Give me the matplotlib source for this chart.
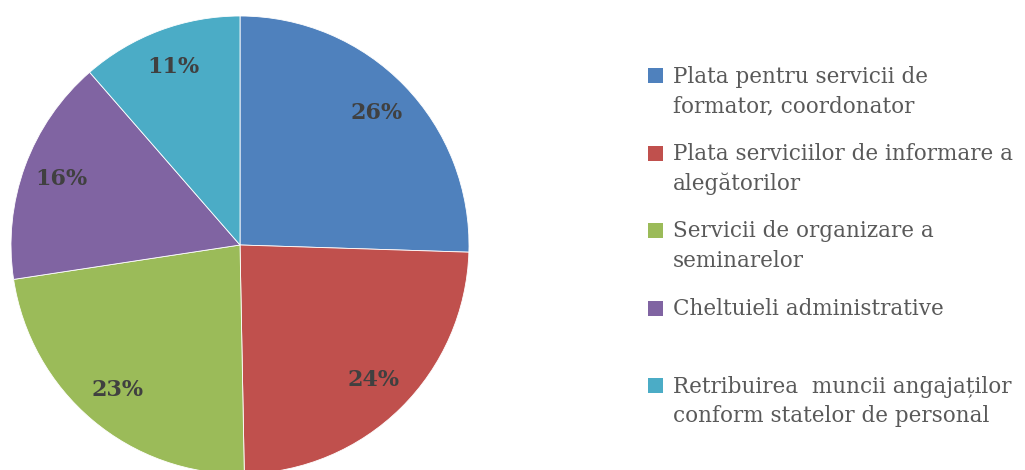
import matplotlib
matplotlib.use("Agg")
import matplotlib.pyplot as plt
from matplotlib.patches import Rectangle
import numpy as np

categories = [
    "Plata pentru servicii de\nformator, coordonator",
    "Plata serviciilor de informare a\nalegătorilor",
    "Servicii de organizare a\nseminarelor",
    "Cheltuieli administrative",
    "Retribuirea  muncii angajaților\nconform statelor de personal",
]
shares = [25.5, 24.2, 22.9, 16.0, 11.4]
pct_labels = ["26%", "24%", "23%", "16%", "11%"]
colors = ["#4F81BD", "#C0504D", "#9BBB59", "#8064A2", "#4BACC6"]

W, H = 1025, 470
fig = plt.figure(figsize=(W / 100, H / 100), dpi=100)
fig.patch.set_facecolor("white")

cx, cy, r = 240, 245, 229
ax = fig.add_axes([(cx - r) / W, (H - cy - r) / H, 2 * r / W, 2 * r / H])
wedges, texts = ax.pie(shares, colors=colors, startangle=90, counterclock=False,
                       radius=1, wedgeprops=dict(edgecolor="white", linewidth=0.6))
ax.set_xlim(-1, 1)
ax.set_ylim(-1, 1)
ax.set_aspect("equal")
ax.axis("off")

for w, lab in zip(wedges, pct_labels):
    mid = np.deg2rad((w.theta1 + w.theta2) / 2)
    ax.text(0.83 * np.cos(mid), 0.83 * np.sin(mid), lab, ha="center", va="center",
            fontsize=16, fontweight="bold", family="DejaVu Serif", color="#404040")

# legend
marker_x, marker_w = 648, 15
text_x = 673
first_top = 68
step = 77.5
line_gap = 29.5
for i, (cat, col) in enumerate(zip(categories, colors)):
    top = first_top + i * step
    fig.add_artist(Rectangle((marker_x / W, (H - top - marker_w) / H), marker_w / W, marker_w / H,
                             transform=fig.transFigure, facecolor=col, edgecolor="none"))
    for j, line in enumerate(cat.split("\n")):
        yc = top + marker_w / 2 + 1 + j * line_gap
        fig.text(text_x / W, (H - yc) / H, line, ha="left", va="center",
                 fontsize=15.5, family="DejaVu Serif", color="#595959")

fig.savefig("out.png", dpi=100, facecolor="white")
